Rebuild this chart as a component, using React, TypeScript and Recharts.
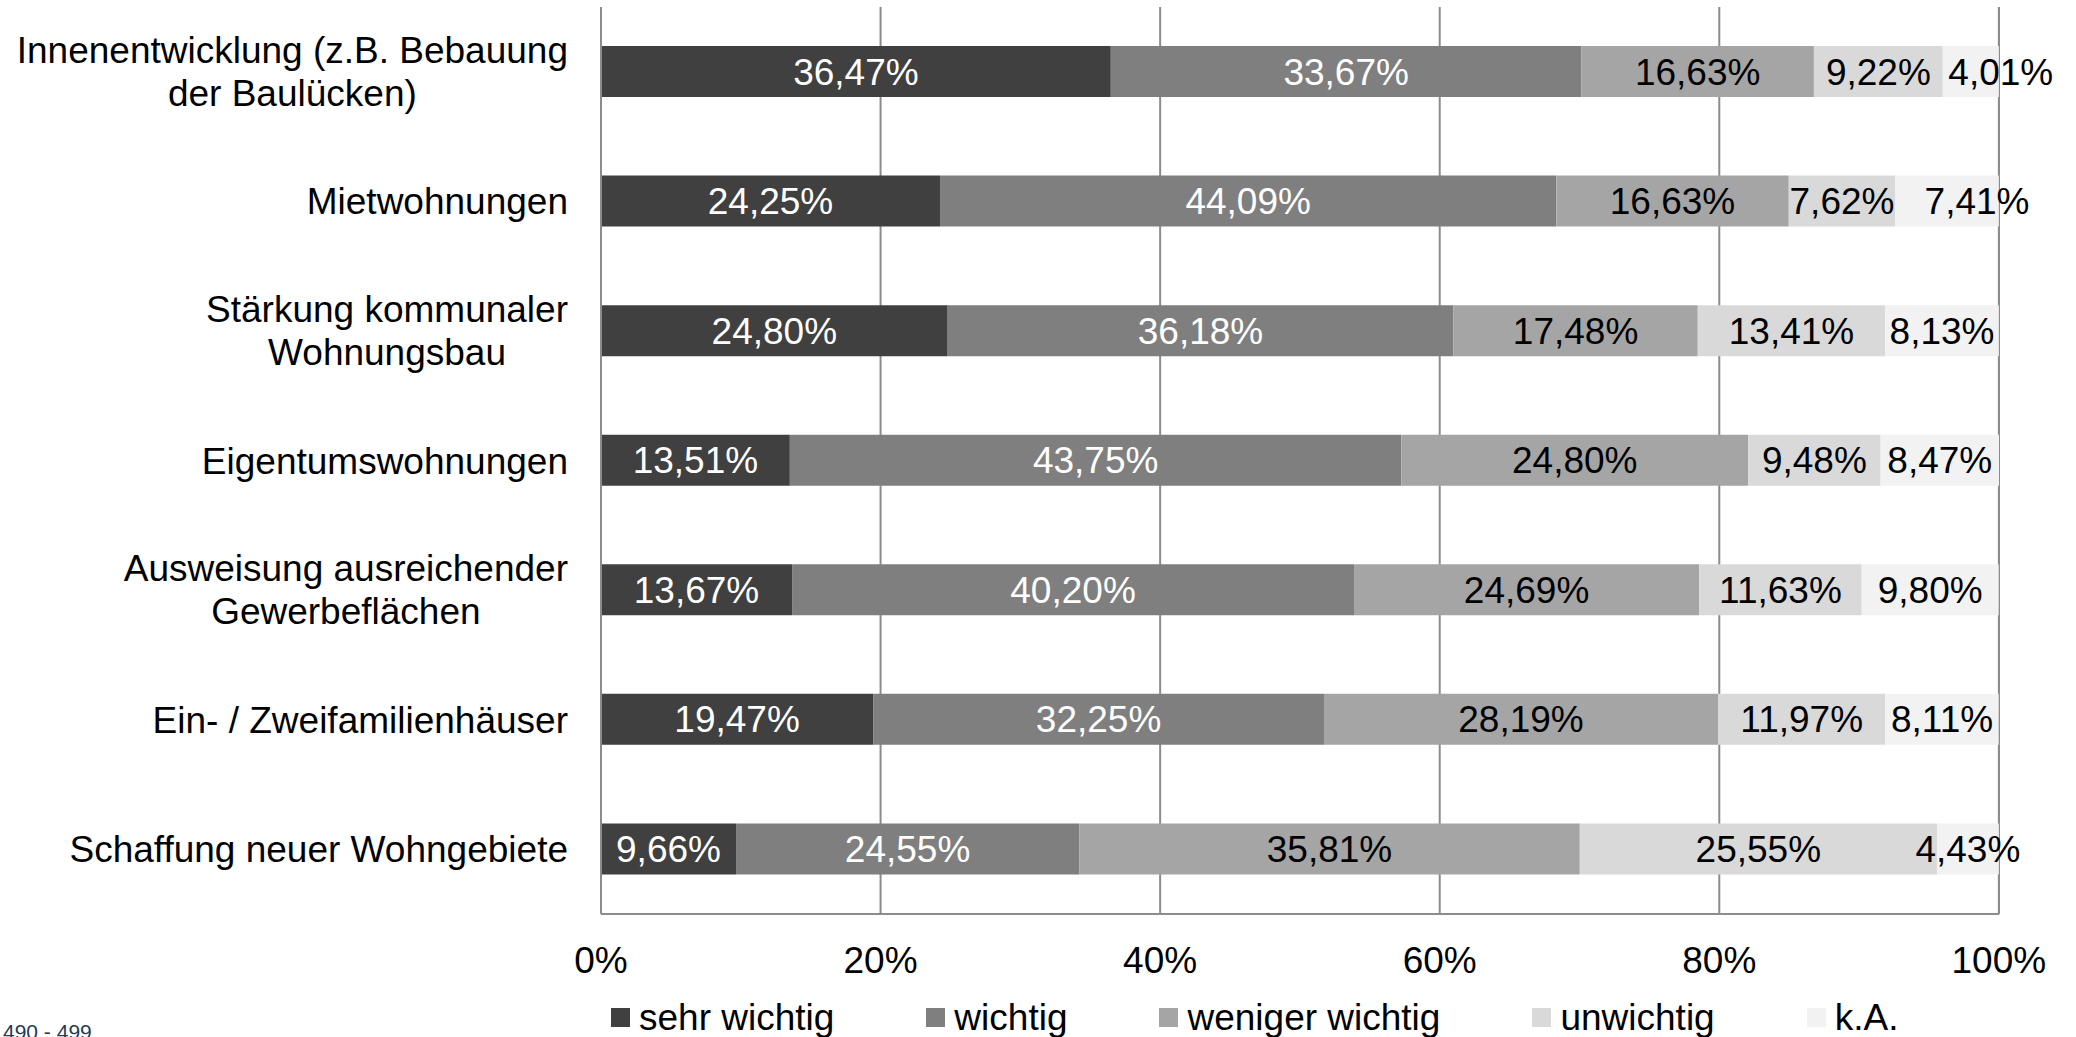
import React from 'react';
import { BarChart, Bar, XAxis, YAxis, CartesianGrid, Legend, LabelList } from 'recharts';

const categories = [
  'Innenentwicklung (z.B. Bebauung\nder Baulücken)',
  'Mietwohnungen',
  'Stärkung kommunaler\nWohnungsbau',
  'Eigentumswohnungen',
  'Ausweisung ausreichender\nGewerbeflächen',
  'Ein- / Zweifamilienhäuser',
  'Schaffung neuer Wohngebiete',
];

const sehrWichtig = [36.47, 24.25, 24.8, 13.51, 13.67, 19.47, 9.66];
const wichtig = [33.67, 44.09, 36.18, 43.75, 40.2, 32.25, 24.55];
const wenigerWichtig = [16.63, 16.63, 17.48, 24.8, 24.69, 28.19, 35.81];
const unwichtig = [9.22, 7.62, 13.41, 9.48, 11.63, 11.97, 25.55];
const keineAngabe = [4.01, 7.41, 8.13, 8.47, 9.8, 8.11, 4.43];

const xTicks = [0, 20, 40, 60, 80, 100];

const series = [
  { key: 'sehr', name: 'sehr wichtig', values: sehrWichtig, color: '#404040', text: '#ffffff' },
  { key: 'wichtig', name: 'wichtig', values: wichtig, color: '#7f7f7f', text: '#ffffff' },
  { key: 'weniger', name: 'weniger wichtig', values: wenigerWichtig, color: '#a5a5a5', text: '#000000' },
  { key: 'unwichtig', name: 'unwichtig', values: unwichtig, color: '#d9d9d9', text: '#000000' },
  { key: 'ka', name: 'k.A.', values: keineAngabe, color: '#f2f2f2', text: '#000000' },
];

const data = categories.map((name, i) => {
  const row: Record<string, any> = { name };
  series.forEach((s) => {
    row[s.key] = s.values[i];
  });
  return row;
});

const FONT = '"Liberation Sans", Arial, sans-serif';
const FS = 37;
const GRID = '#8c8c8c';

let ctx: CanvasRenderingContext2D | null = null;
const measure = (s: string) => {
  if (!ctx) {
    ctx = document.createElement('canvas').getContext('2d');
  }
  if (!ctx) return s.length * FS * 0.5;
  ctx.font = `${FS}px ${FONT}`;
  return ctx.measureText(s).width;
};

const fmt = (v: any) => `${Number(v).toFixed(2).replace('.', ',')}%`;

const CategoryTick = (props: any) => {
  const { x, y, payload } = props;
  const lines: string[] = String(payload.value).split('\n');
  if (lines.length === 1) {
    return (
      <text x={x} y={y} dy={13} textAnchor="end" fontSize={FS} fontFamily={FONT} fill="#000">
        {lines[0]}
      </text>
    );
  }
  const w = Math.max(...lines.map(measure));
  const cx = x - w / 2;
  return (
    <text x={cx} y={y} textAnchor="middle" fontSize={FS} fontFamily={FONT} fill="#000">
      {lines.map((l, i) => (
        <tspan key={i} x={cx} dy={i === 0 ? -9 : 43}>
          {l}
        </tspan>
      ))}
    </text>
  );
};

// label of a segment, nudged right when it would run into the label of the segment before it
const makeSegmentLabel = (seriesIndex: number, color: string) => (props: any) => {
  const { x, y, width, height, value, index } = props;
  if (value == null) return null;
  const text = fmt(value);
  let cx = x + width / 2;
  if (seriesIndex > 0 && value > 0) {
    const prevVal = series[seriesIndex - 1].values[index];
    const prevW = (width * prevVal) / value;
    const prevRight = x - prevW / 2 + measure(fmt(prevVal)) / 2;
    const gap = cx - measure(text) / 2 - prevRight;
    if (gap < 10) cx += 30;
  }
  return (
    <text x={cx} y={y + height / 2} dy={13} textAnchor="middle" fontSize={FS} fontFamily={FONT} fill={color}>
      {text}
    </text>
  );
};

const renderLegend = () => (
  <div style={{ display: 'flex', gap: 92, fontFamily: FONT, fontSize: FS, lineHeight: '37px', color: '#000' }}>
    {series.map((s) => (
      <div key={s.key} style={{ display: 'flex', alignItems: 'center', whiteSpace: 'nowrap' }}>
        <span style={{ display: 'inline-block', width: 19, height: 19, background: s.color, marginRight: 9 }} />
        <span>{s.name}</span>
      </div>
    ))}
  </div>
);

export default function App() {
  return (
    <div style={{ position: 'absolute', left: 0, top: 0, width: 2076, height: 1037, background: '#fff', overflow: 'hidden' }}>
      <BarChart
        width={2076}
        height={1037}
        data={data}
        layout="vertical"
        margin={{ top: 7, right: 77, left: 0, bottom: 0 }}
      >
        <CartesianGrid horizontal={false} stroke={GRID} strokeWidth={2} />
        <XAxis
          type="number"
          domain={[0, 100]}
          ticks={xTicks}
          interval={0}
          tickFormatter={(v) => `${v}%`}
          height={123}
          tickLine={false}
          tickSize={0}
          tickMargin={33}
          axisLine={{ stroke: GRID, strokeWidth: 2 }}
          tick={{ fontSize: FS, fontFamily: FONT, fill: '#000' }}
        />
        <YAxis
          type="category"
          dataKey="name"
          width={601}
          interval={0}
          tickLine={false}
          tickSize={0}
          tickMargin={33}
          axisLine={{ stroke: GRID, strokeWidth: 2 }}
          tick={<CategoryTick />}
        />
        <Legend
          layout="horizontal"
          verticalAlign="middle"
          align="center"
          wrapperStyle={{ top: 999, left: 611, width: 1465, height: 37 }}
          content={renderLegend}
        />
        {series.map((s, si) => (
          <Bar
            key={s.key}
            dataKey={s.key}
            name={s.name}
            stackId="a"
            fill={s.color}
            barSize={51}
            isAnimationActive={false}
          >
            <LabelList dataKey={s.key} content={makeSegmentLabel(si, s.text)} />
          </Bar>
        ))}
      </BarChart>
      <div
        style={{
          position: 'absolute',
          left: 3,
          top: 1021,
          fontFamily: FONT,
          fontSize: 21,
          lineHeight: '21px',
          color: '#243b53',
          whiteSpace: 'nowrap',
        }}
      >
        490 - 499
      </div>
    </div>
  );
}
